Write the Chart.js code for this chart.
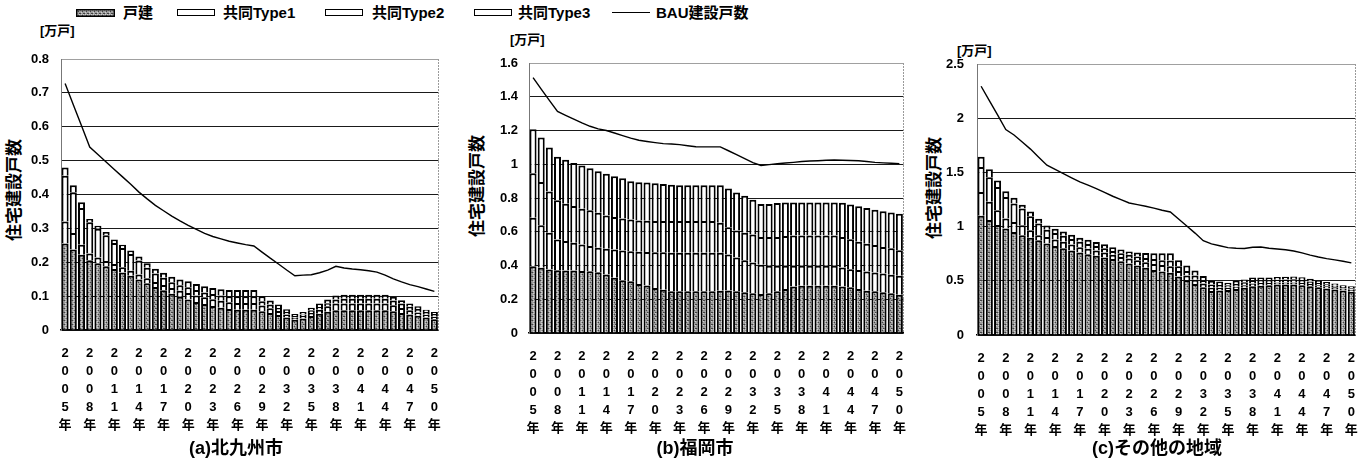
<!DOCTYPE html>
<html><head><meta charset="utf-8">
<script src="https://cdn.jsdelivr.net/npm/chart.js@4.4.0/dist/chart.umd.min.js"></script>
<style>
html,body{margin:0;padding:0;background:#fff;}
body{width:1372px;height:461px;position:relative;overflow:hidden;font-family:"Liberation Sans","Noto Sans CJK JP",sans-serif;color:#000;}
canvas.cv{position:absolute;top:0;}
.lt{position:absolute;top:5px;font-size:15px;font-weight:bold;line-height:16px;white-space:nowrap;}
.sw{position:absolute;top:9px;width:36px;height:5px;border:1.5px solid #000;background:#fff;}
canvas.swc{position:absolute;top:9px;}
.ln{position:absolute;top:12px;width:38px;height:0;border-top:1.5px solid #000;}
.unit{position:absolute;font-size:13px;font-weight:bold;line-height:14px;white-space:nowrap;}
.yt{position:absolute;font-size:17px;font-weight:bold;white-space:nowrap;transform:translate(-50%,-50%) rotate(-90deg);line-height:18px;}
.cap{position:absolute;font-size:18px;font-weight:bold;white-space:nowrap;transform:translate(-50%,-50%);line-height:20px;}
</style></head>
<body>
<canvas id="swD" class="swc" width="39" height="8" style="left:76px"></canvas><div class="lt" style="left:123px">戸建</div>
<div class="sw" style="left:177px"></div><div class="lt" style="left:223px">共同Type1</div>
<div class="sw" style="left:325px"></div><div class="lt" style="left:372px">共同Type2</div>
<div class="sw" style="left:474px"></div><div class="lt" style="left:518px">共同Type3</div>
<div class="ln" style="left:612px"></div><div class="lt" style="left:656px">BAU建設戸数</div>

<div class="unit" style="left:40px;top:24px">[万戸]</div>
<div class="unit" style="left:510px;top:33px">[万戸]</div>
<div class="unit" style="left:957px;top:44px">[万戸]</div>

<div class="yt" style="left:15px;top:190px">住宅建設戸数</div>
<div class="yt" style="left:478px;top:186px">住宅建設戸数</div>
<div class="yt" style="left:935px;top:188px">住宅建設戸数</div>

<canvas id="cA" class="cv" width="455" height="461" style="left:0px"></canvas>
<canvas id="cB" class="cv" width="460" height="461" style="left:460px"></canvas>
<canvas id="cC" class="cv" width="447" height="461" style="left:925px"></canvas>

<div class="cap" style="left:236px;top:448px">(a)北九州市</div>
<div class="cap" style="left:695px;top:448px">(b)福岡市</div>
<div class="cap" style="left:1157px;top:448px">(c)その他の地域</div>

<script>
// ---- categories ----
const years = [2005,2006,2007,2008,2009,2010,2011,2012,2013,2014,2015,2016,2017,2018,2019,2020,2021,2022,2023,2024,2025,2026,2027,2028,2029,2030,2031,2032,2033,2034,2035,2036,2037,2038,2039,2040,2041,2042,2043,2044,2045,2046,2047,2048,2049,2050];
const tickYears = [2005,2008,2011,2014,2017,2020,2023,2026,2029,2032,2035,2038,2041,2044,2047,2050];
const seriesNames = ['戸建','共同Type1','共同Type2','共同Type3','BAU建設戸数'];

// ---- (a) 北九州市 [万戸] ----
const kitakyushuDetached = [0.255,0.238,0.222,0.206,0.197,0.188,0.18,0.17,0.16,0.149,0.138,0.127,0.117,0.107,0.098,0.09,0.083,0.077,0.071,0.066,0.062,0.06,0.06,0.06,0.055,0.05,0.044,0.037,0.03,0.034,0.041,0.048,0.054,0.058,0.058,0.058,0.058,0.058,0.058,0.058,0.055,0.05,0.046,0.042,0.037,0.032];
const kitakyushuType1 = [0.065,0.048,0.03,0.02,0.017,0.016,0.015,0.015,0.015,0.015,0.015,0.015,0.016,0.017,0.018,0.019,0.019,0.02,0.02,0.02,0.02,0.02,0.02,0.02,0.017,0.014,0.012,0.009,0.006,0.007,0.009,0.012,0.016,0.02,0.02,0.02,0.02,0.02,0.02,0.02,0.018,0.015,0.012,0.01,0.008,0.007];
const kitakyushuType2 = [0.135,0.121,0.108,0.092,0.085,0.076,0.062,0.057,0.049,0.041,0.031,0.025,0.021,0.017,0.016,0.017,0.016,0.014,0.015,0.016,0.018,0.02,0.02,0.02,0.013,0.011,0.009,0.007,0.005,0.005,0.008,0.008,0.009,0.012,0.014,0.014,0.014,0.014,0.014,0.014,0.014,0.013,0.011,0.01,0.008,0.008];
const kitakyushuType3 = [0.025,0.02,0.017,0.01,0.009,0.009,0.01,0.01,0.011,0.012,0.013,0.014,0.015,0.016,0.017,0.018,0.018,0.018,0.018,0.018,0.018,0.018,0.018,0.018,0.015,0.012,0.01,0.008,0.006,0.007,0.008,0.01,0.011,0.012,0.012,0.012,0.012,0.012,0.012,0.012,0.011,0.01,0.009,0.008,0.007,0.006];
const kitakyushuBAU = [0.728,0.665,0.603,0.54,0.518,0.496,0.474,0.452,0.43,0.407,0.387,0.368,0.352,0.336,0.322,0.309,0.297,0.285,0.276,0.269,0.262,0.257,0.252,0.248,0.23,0.212,0.195,0.177,0.16,0.162,0.163,0.169,0.177,0.188,0.183,0.18,0.178,0.175,0.171,0.162,0.151,0.142,0.134,0.128,0.121,0.114];

// ---- (b) 福岡市 [万戸] ----
const fukuokaDetached = [0.396,0.386,0.376,0.372,0.37,0.37,0.368,0.366,0.36,0.347,0.327,0.313,0.307,0.291,0.281,0.267,0.257,0.248,0.248,0.248,0.248,0.248,0.248,0.25,0.252,0.247,0.241,0.235,0.231,0.235,0.247,0.261,0.275,0.28,0.28,0.28,0.28,0.28,0.275,0.271,0.261,0.251,0.247,0.241,0.235,0.227];
const fukuokaType1 = [0.287,0.252,0.218,0.182,0.175,0.165,0.157,0.149,0.145,0.152,0.168,0.176,0.178,0.19,0.199,0.212,0.221,0.228,0.228,0.228,0.228,0.228,0.228,0.226,0.213,0.2,0.19,0.183,0.173,0.163,0.151,0.137,0.123,0.118,0.118,0.118,0.118,0.118,0.113,0.107,0.112,0.114,0.112,0.112,0.11,0.112];
const fukuokaType2 = [0.263,0.257,0.244,0.232,0.221,0.217,0.212,0.212,0.208,0.198,0.192,0.19,0.188,0.186,0.185,0.184,0.185,0.187,0.187,0.187,0.187,0.187,0.187,0.177,0.162,0.161,0.163,0.166,0.165,0.171,0.171,0.177,0.18,0.18,0.18,0.18,0.18,0.18,0.181,0.177,0.168,0.164,0.163,0.157,0.157,0.151];
const fukuokaType3 = [0.261,0.263,0.262,0.259,0.26,0.255,0.255,0.249,0.246,0.246,0.242,0.238,0.227,0.226,0.227,0.225,0.22,0.216,0.213,0.213,0.213,0.213,0.213,0.223,0.23,0.224,0.219,0.206,0.196,0.196,0.202,0.199,0.196,0.196,0.196,0.196,0.196,0.196,0.203,0.206,0.21,0.212,0.209,0.212,0.212,0.216];
const fukuokaBAU = [1.513,1.445,1.378,1.313,1.29,1.268,1.245,1.225,1.21,1.2,1.185,1.17,1.155,1.142,1.135,1.128,1.122,1.12,1.116,1.11,1.104,1.103,1.103,1.103,1.08,1.057,1.034,1.01,0.993,0.998,1.003,1.007,1.011,1.016,1.019,1.021,1.024,1.025,1.024,1.022,1.021,1.016,1.011,1.008,1.006,1.004];

// ---- (c) その他の地域 [万戸] ----
const otherDetached = [1.1,1.06,1.015,0.982,0.951,0.92,0.898,0.874,0.843,0.82,0.8,0.78,0.76,0.745,0.73,0.715,0.7,0.68,0.66,0.64,0.62,0.6,0.585,0.575,0.54,0.505,0.47,0.44,0.405,0.41,0.415,0.425,0.435,0.45,0.455,0.46,0.465,0.465,0.465,0.46,0.45,0.44,0.43,0.42,0.41,0.4];
const otherType1 = [0.22,0.17,0.135,0.092,0.092,0.092,0.068,0.046,0.062,0.06,0.06,0.055,0.05,0.05,0.05,0.045,0.04,0.04,0.045,0.05,0.05,0.055,0.06,0.06,0.05,0.045,0.04,0.035,0.03,0.025,0.02,0.02,0.025,0.025,0.025,0.02,0.02,0.02,0.02,0.02,0.02,0.02,0.02,0.02,0.018,0.018];
const otherType2 = [0.23,0.225,0.216,0.2,0.169,0.154,0.129,0.108,0.067,0.06,0.055,0.05,0.05,0.045,0.04,0.04,0.035,0.035,0.035,0.035,0.04,0.045,0.045,0.053,0.045,0.04,0.04,0.03,0.03,0.027,0.023,0.025,0.027,0.03,0.025,0.025,0.025,0.028,0.03,0.028,0.024,0.02,0.018,0.015,0.014,0.014];
const otherType3 = [0.094,0.075,0.059,0.053,0.054,0.035,0.045,0.044,0.038,0.04,0.04,0.04,0.038,0.038,0.037,0.037,0.035,0.033,0.031,0.036,0.046,0.055,0.065,0.067,0.055,0.05,0.044,0.04,0.033,0.031,0.025,0.028,0.025,0.025,0.025,0.025,0.025,0.025,0.025,0.025,0.024,0.023,0.022,0.021,0.018,0.018];
const otherBAU = [2.295,2.162,2.03,1.895,1.845,1.78,1.715,1.64,1.566,1.527,1.489,1.45,1.412,1.382,1.351,1.315,1.28,1.249,1.218,1.203,1.188,1.17,1.151,1.135,1.07,1.005,0.94,0.87,0.84,0.823,0.806,0.8,0.798,0.81,0.812,0.8,0.793,0.787,0.775,0.757,0.737,0.72,0.705,0.693,0.68,0.665];

const FONT = '"Liberation Sans", "Noto Sans CJK JP", sans-serif';
Chart.defaults.font.family = FONT;
Chart.defaults.color = '#000';

function stipple(g){
  const c = document.createElement('canvas'); c.width = 4; c.height = 4;
  const t = c.getContext('2d');
  t.fillStyle = '#9c9c9c'; t.fillRect(0,0,4,4);
  t.fillStyle = '#444'; t.fillRect(0,0,1,1); t.fillRect(2,2,1,1); t.fillRect(3,0,1,1);
  t.fillStyle = '#cfcfcf'; t.fillRect(1,3,1,1); t.fillRect(3,1,1,1); t.fillRect(1,1,1,1);
  return g.createPattern(c,'repeat');
}

// legend swatch for 戸建
(function(){
  const cv = document.getElementById('swD'); const g = cv.getContext('2d');
  g.fillStyle = stipple(g); g.fillRect(0,0,39,8);
  g.strokeStyle = '#000'; g.lineWidth = 1.5; g.strokeRect(0.75,0.75,37.5,6.5);
})();

const frame = {
  id:'frame',
  afterDraw(chart){
    const {ctx, chartArea:a} = chart;
    ctx.save(); ctx.strokeStyle = '#9a9a9a'; ctx.lineWidth = 1; ctx.setLineDash([2,1]);
    ctx.beginPath(); ctx.moveTo(Math.round(a.right)+0.5, a.top); ctx.lineTo(Math.round(a.right)+0.5, a.bottom); ctx.stroke();
    ctx.restore();
  }
};

function makeChart(id, cfg){
  const el = document.getElementById(id);
  const g = el.getContext('2d');
  const pat = stipple(g);
  const barBase = {type:'bar', borderColor:'#000', borderWidth:2, borderSkipped:'start', stack:'houses', order:1,
                   categoryPercentage:1.0, barPercentage:0.86};
  new Chart(el, {
    data:{
      labels: years,
      datasets:[
        Object.assign({}, barBase, {label:seriesNames[0], data:cfg.d, backgroundColor:pat}),
        Object.assign({}, barBase, {label:seriesNames[1], data:cfg.t1, backgroundColor:'#fff'}),
        Object.assign({}, barBase, {label:seriesNames[2], data:cfg.t2, backgroundColor:'#fff'}),
        Object.assign({}, barBase, {label:seriesNames[3], data:cfg.t3, backgroundColor:'#fff'}),
        {type:'line', label:seriesNames[4], data:cfg.bau, borderColor:'#000', borderWidth:1.4, pointRadius:0,
         tension:0, fill:false, stack:'bau', order:0}
      ]
    },
    options:{
      responsive:false, animation:false, events:[],
      layout:{padding:{left:0, right:cfg.padR, top:cfg.top, bottom:0}},
      plugins:{legend:{display:false}, tooltip:{enabled:false}, title:{display:false}},
      scales:{
        x:{
          stacked:true, offset:true,
          grid:{display:false, drawTicks:false},
          border:{display:true, color:'#000', width:1.5},
          ticks:{autoSkip:false, maxRotation:0, minRotation:0, padding:14, color:'#000',
                 font:{family:FONT, size:13, weight:'bold', lineHeight:1.4},
                 callback:function(v, i){ const y = years[i]; return tickYears.includes(y) ? (String(y)+'年').split('') : ''; }},
          afterFit:function(s){ s.height = 461 - cfg.bottom; }
        },
        y:{
          stacked:true, min:0, max:cfg.max,
          ticks:{stepSize:cfg.step, padding:cfg.tickPad, color:'#000',
                 font:{family:FONT, size:13, weight:'bold'},
                 callback:function(v){ return String(Math.round(v*10)/10); }},
          grid:{drawTicks:false, lineWidth:1,
                color:function(c){ return (c.tick && Math.abs(c.tick.value - cfg.max) < 1e-9) ? '#a0a0a0' : '#1a1a1a'; }},
          border:{display:true, color:'#777', width:1},
          afterFit:function(s){ s.width = cfg.left; }
        }
      }
    },
    plugins:[frame]
  });
}

makeChart('cA', {d:kitakyushuDetached, t1:kitakyushuType1, t2:kitakyushuType2, t3:kitakyushuType3, bau:kitakyushuBAU,
  max:0.8, step:0.1, left:61, padR:12, top:59, bottom:330, tickPad:12});
makeChart('cB', {d:fukuokaDetached, t1:fukuokaType1, t2:fukuokaType2, t3:fukuokaType3, bau:fukuokaBAU,
  max:1.6, step:0.2, left:69, padR:11, top:63, bottom:333, tickPad:11});
makeChart('cC', {d:otherDetached, t1:otherType1, t2:otherType2, t3:otherType3, bau:otherBAU,
  max:2.5, step:0.5, left:52, padR:15, top:64, bottom:335, tickPad:13});
</script>
</body></html>
